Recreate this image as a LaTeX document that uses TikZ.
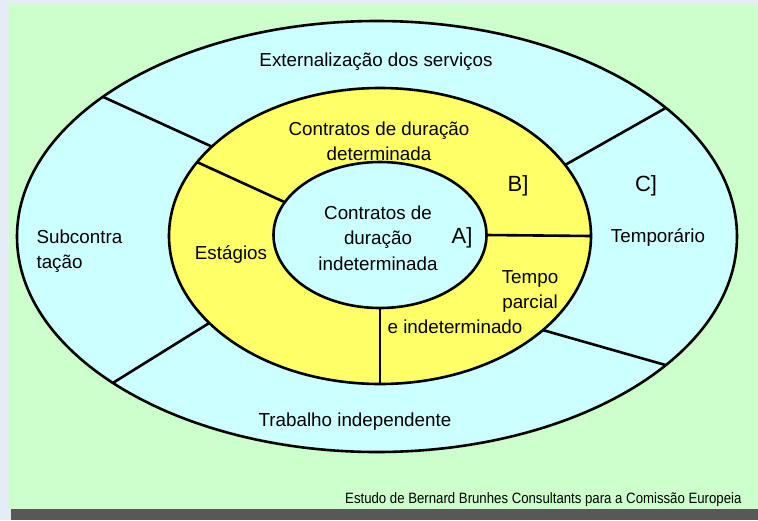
\documentclass[tikz,border=0pt]{standalone}
\usepackage{fontspec}
\setmainfont{Liberation Sans}
\newfontfamily\narrowsf[FakeStretch=0.88]{Liberation Sans}
\usetikzlibrary{shapes.geometric}
\definecolor{panelgreen}{HTML}{CCFFCC}
\definecolor{ringcyan}{HTML}{CCFFFF}
\definecolor{ringyellow}{HTML}{FFFF66}
\definecolor{slidebar}{HTML}{585858}
\definecolor{slideedge}{HTML}{E6ECF6}

\begin{document}
\begin{tikzpicture}[x=1pt,y=-1pt,
  ring/.style={ellipse,draw,line width=2.6pt,
               inner sep=0pt,outer sep=0pt},
  divider/.style={line width=2.6pt},
  lbl/.style={font=\fontsize{18.8}{25.5}\selectfont,
              align=center},
  tag/.style={font=\fontsize{22}{26}\selectfont}]

\useasboundingbox (0,0) rectangle (758,520);

\fill[slideedge] (0,0) rectangle (758,520);
\fill[panelgreen] (9,4) rectangle (758,509);
\fill[slidebar] (11,509) rectangle (758,520);

\node[ring,fill=ringcyan,
      minimum width=720pt,minimum height=431pt]
     at (377,236.5) (outer) {};
\node[ring,fill=ringyellow,
      minimum width=422pt,minimum height=296pt]
     at (380,236) (mid) {};
\node[ring,fill=ringcyan,
      minimum width=213pt,minimum height=146pt]
     at (380,235) (inner) {};

\draw[divider] (outer.153.4) -- (mid.152.8);
\draw[divider] (mid.158.4) -- (inner.161);
\draw[divider] (outer.24.7) -- (mid.21.4);
\draw[divider] (inner.east) -- (mid.east);
\draw[divider] (mid.-30.3) -- (outer.-24.4);
\draw[divider] (inner.south) -- (mid.south);
\draw[divider] (mid.207.2) -- (outer.209.9);

\node[lbl] at (376,62) (extern)
     {Externalização dos serviços};
\node[lbl] at (379,141.5) (determ)
     {Contratos de duração\\determinada};
\node[tag] at (518,186) (tagB) {B]};
\node[tag] at (646,186) (tagC) {C]};
\node[lbl,align=left,anchor=west]
     at (33,251) (subcon)
     {Subcontra\\tação};
\node[lbl] at (231,255) (estag) {Estágios};
\node[lbl] at (378,238) (indet)
     {Contratos de\\duração\\indeterminada};
\node[tag] at (462,238) (tagA) {A]};
\node[lbl] at (658,238) (tempor) {Temporário};
\node[lbl] at (530,291.5) (parcial)
     {Tempo\\parcial};
\node[lbl] at (455,327) (indetB)
     {e indeterminado};
\node[lbl] at (355,422) (indep)
     {Trabalho independente};

\node[anchor=east,
      font=\narrowsf\fontsize{15}{17}\selectfont]
     at (745,500) (source)
     {Estudo de Bernard Brunhes Consultants para a Comissão Europeia};

\end{tikzpicture}
\end{document}
